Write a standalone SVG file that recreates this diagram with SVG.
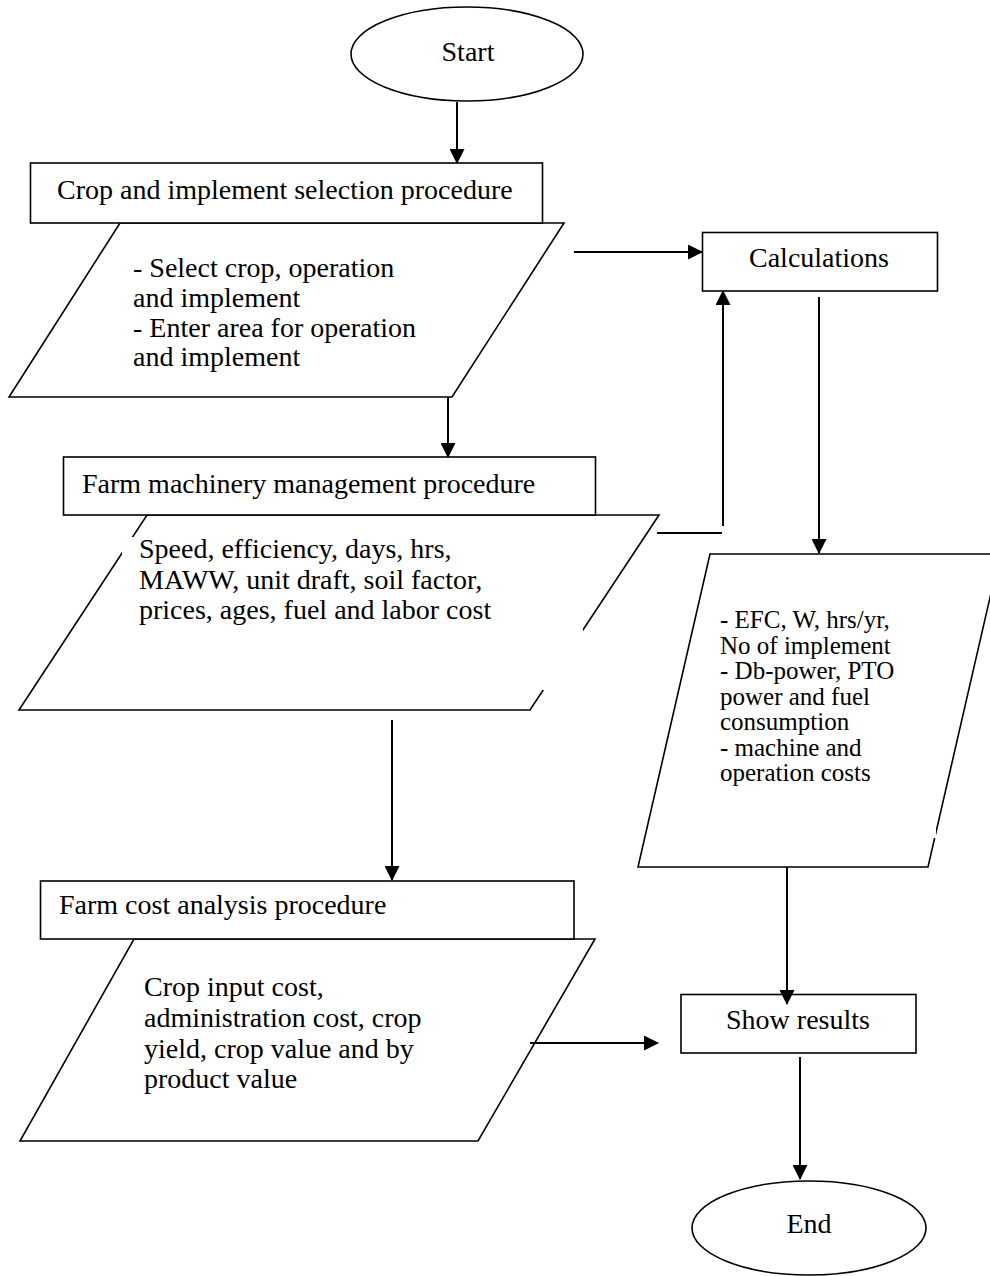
<svg xmlns="http://www.w3.org/2000/svg" width="990" height="1276" viewBox="0 0 990 1276">
<style>
.shape{fill:#fff;stroke:#000;stroke-width:1.6}
.mask{fill:#fff;stroke:none}
.t{font-family:"Liberation Serif","Times New Roman",serif;font-size:28px;fill:#000}
.s{font-family:"Liberation Serif","Times New Roman",serif;font-size:25px;fill:#000}
.m{text-anchor:middle}
.c{fill:none;stroke:#000;stroke-width:2}
</style>
<defs>
<marker id="arr" markerWidth="15" markerHeight="15" refX="14" refY="7.5" orient="auto" markerUnits="userSpaceOnUse">
<path d="M0,0 L15,7.5 L0,15 z" fill="#000"/>
</marker>
</defs>
<rect width="990" height="1276" fill="#fff"/>

<g id="start">
<ellipse class="shape" cx="467" cy="54" rx="116" ry="47"/>
<text class="t m" x="468" y="61">Start</text>
</g>

<g id="crop-selection">
<polygon class="shape" points="120,223 564,223 452,397 9,397"/>
<rect class="shape" x="30.5" y="163" width="512" height="60"/>
<text class="t" x="57" y="199">Crop and implement selection procedure</text>
<text class="t" x="133" y="277">- Select crop, operation</text>
<text class="t" x="133" y="307">and implement</text>
<text class="t" x="133" y="337">- Enter area for operation</text>
<text class="t" x="133" y="366">and implement</text>
</g>

<g id="machinery-management">
<polygon class="shape" points="147,515 659,515 530,710 19,710"/>
<rect class="mask" x="122" y="537" width="461" height="153"/>
<rect class="shape" x="63.5" y="457" width="532" height="58"/>
<text class="t" x="82" y="493">Farm machinery management procedure</text>
<text class="t" x="139" y="558">Speed, efficiency, days, hrs,</text>
<text class="t" x="139" y="589">MAWW, unit draft, soil factor,</text>
<text class="t" x="139" y="619">prices, ages, fuel and labor cost</text>
</g>

<g id="calculations">
<rect class="shape" x="702.5" y="232.5" width="235" height="58.5"/>
<text class="t m" x="819" y="267">Calculations</text>
</g>

<g id="calc-output">
<polygon class="shape" points="710,554 1000,554 928,867 638,867"/>
<rect class="mask" x="705" y="580" width="231" height="258"/>
<text class="s" x="720" y="628">- EFC, W, hrs/yr,</text>
<text class="s" x="720" y="653.5">No of implement</text>
<text class="s" x="720" y="679">- Db-power, PTO</text>
<text class="s" x="720" y="704.5">power and fuel</text>
<text class="s" x="720" y="730">consumption</text>
<text class="s" x="720" y="755.5">- machine and</text>
<text class="s" x="720" y="781">operation costs</text>
</g>

<g id="cost-analysis">
<polygon class="shape" points="134,939 595,939 478,1141 20,1141"/>
<rect class="shape" x="40.5" y="881" width="533.5" height="58"/>
<text class="t" x="59" y="914">Farm cost analysis procedure</text>
<text class="t" x="144" y="996">Crop input cost,</text>
<text class="t" x="144" y="1027">administration cost, crop</text>
<text class="t" x="144" y="1058">yield, crop value and by</text>
<text class="t" x="144" y="1088">product value</text>
</g>

<g id="show-results">
<rect class="shape" x="681" y="994.5" width="235" height="58.5"/>
<text class="t m" x="798" y="1029">Show results</text>
</g>

<g id="end">
<ellipse class="shape" cx="809" cy="1228" rx="117" ry="47"/>
<text class="t m" x="809" y="1233">End</text>
</g>

<g id="connectors">
<path class="c" d="M457,102 V163" marker-end="url(#arr)"/>
<path class="c" d="M448,397 V457" marker-end="url(#arr)"/>
<path class="c" d="M574,252 H702" marker-end="url(#arr)"/>
<path class="c" d="M657,533 H722"/>
<path class="c" d="M723,526 V291" marker-end="url(#arr)"/>
<path class="c" d="M819,297 V553" marker-end="url(#arr)"/>
<path class="c" d="M392,720 V880" marker-end="url(#arr)"/>
<path class="c" d="M787,867 V1004" marker-end="url(#arr)"/>
<path class="c" d="M530,1043 H658" marker-end="url(#arr)"/>
<path class="c" d="M800,1057 V1179" marker-end="url(#arr)"/>
</g>
</svg>
